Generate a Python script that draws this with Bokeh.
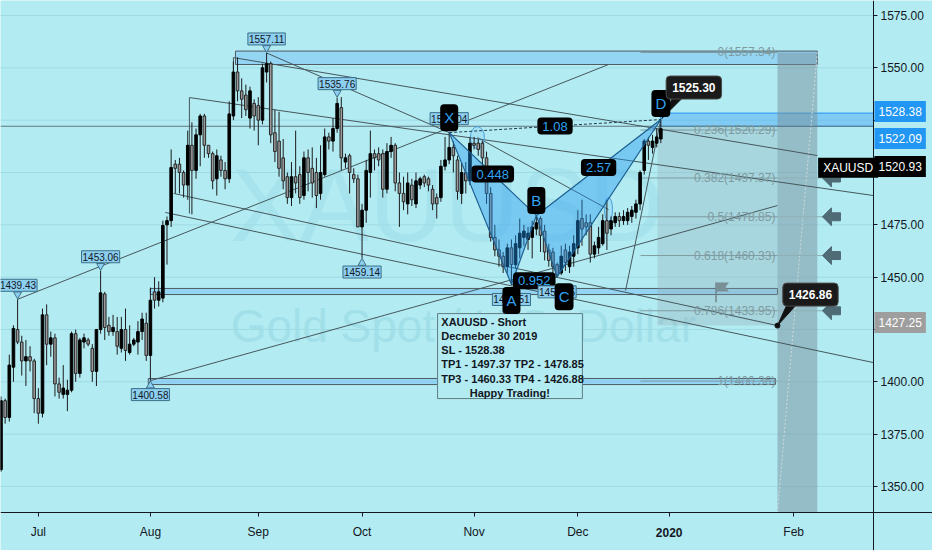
import numpy as np
from bokeh.plotting import figure
from bokeh.models import Range1d, FixedTicker, Label, NumeralTickFormatter
from bokeh.embed import file_html
from bokeh.resources import INLINE

# ---------------- data ----------------
opens = [1358,1391,1383,1407,1425,1419,1410,1412,1410,1392,1385,1432,1418,1421,1399,1394,1394,1396,1423,1404,
         1419,1420,1416,1405,1425,1442,1427,1424,1424,1416,1425,1414,1418,1419,1424,1428,1412.6,1443,1439,1440,
         1475,1477,1504,1504,1500,1494,1513,1501,1518,1527,1513,1509,1497,1506,1501,1497,1527,1548,1539,1537,
         1526,1533,1532,1525,1548,1552,1519,1515,1507,1498,1488,1498,1499,1489,1507,1502,1500,1490,1499,1517,
         1515,1521,1531,1505,1508,1499,1497,1474,1482,1500,1509,1509,1509,1492,1510,1513,1495,1490,1485,1494,
         1485,1494,1498,1497,1492,1488,1488,1503,1506,1512,1506,1490,1500,1496,1514,1514,1514,1507,1490,1469,
         1463,1460,1455,1464,1456,1464,1469,1468,1469,1473,1478,1472,1463,1462,1456,1452,1463,1455,1460,1464,
         1478,1476,1476,1461,1464,1466,1477,1473,1476,1479,1477,1477,1479,1481,1485,1501,1515,1512,1514,1516]
highs = [1393,1392,1413,1427,1439.43,1422,1420,1417,1411,1397,1435,1437,1424,1423,1402,1408,1401,1424,1425,1421,
         1423,1421,1418,1425,1453.06,1443,1431,1432,1431,1431,1435,1427,1421,1429,1433,1433,1445,1450,1448,1477,
         1479,1511,1506,1507,1501,1520,1524,1521,1528,1528,1513,1510,1511,1508,1505,1534,1553,1555,1545,1542,
         1541,1535,1536,1552,1557.11,1553,1530,1529,1516,1500,1505,1520,1503,1510,1511,1512,1507,1513,1521,1519,
         1526,1535.76,1536,1509,1509,1502,1499,1485,1506,1520,1511,1512,1511,1514,1517,1514,1500,1498,1500,1497,
         1500,1498,1499,1498,1494,1490,1506,1517,1519.04,1515,1508,1505,1505,1517,1517,1516,1515,1510,1493,1475,
         1468,1462,1466,1468,1470,1478,1475,1474,1477,1479.5,1479,1475,1466,1464,1457,1465,1466,1465,1470,1482,
         1487,1480,1480,1467,1474,1480,1487,1479,1481,1481,1482,1483,1484,1487,1501,1516,1517,1518,1521,1525.30]
lows = [1357,1380,1381,1400,1418,1403,1398,1405,1385,1380,1383,1408,1412,1393,1392,1392,1386,1395,1400,1402,
        1416,1417,1400,1398,1423,1420,1422,1422,1413,1414,1410,1413,1417,1413,1420,1410,1400.58,1435,1436,1438,
        1456,1474,1490,1490,1488,1487,1480,1497,1503,1507,1507,1492,1489,1498,1492,1495,1525,1534,1526,1527,
        1521,1520,1513,1523,1543,1514,1505,1498,1492,1485,1484,1490,1485,1487,1491,1488,1483,1487,1498,1511,
        1510,1519,1501,1502,1490,1495,1474,1459.14,1476,1488,1501,1503,1488,1490,1507,1491,1474,1482,1480,1484,
        1483,1492,1493,1491,1482,1478,1486,1501,1504,1500,1487,1485,1490,1494,1511,1508,1503,1485,1467,1460,
        1455,1452,1452,1446.51,1454,1459,1465,1463,1459,1470,1462,1458,1455,1451,1450.15,1451,1453,1452,1455,1461,
        1465,1470,1457,1459,1461,1465,1463,1470,1474,1474,1475,1475,1476,1478,1482,1499,1506,1509,1512,1514]
closes = [1391,1383,1408,1425.5,1419,1410,1412,1410,1392,1385,1432,1418,1421,1399,1395,1397,1396,1423,1404,1420,
          1421,1418,1405,1425,1442.5,1426,1424,1426,1417,1425,1415,1418,1420,1424,1430,1412.6,1439,1439,1443,1474.7,
          1477,1502.4,1502,1500,1494,1513,1501,1518,1527,1513,1509,1496,1508,1501,1497,1528,1548,1539,1535,1530,
          1539,1527,1525,1550,1552,1518,1510,1502,1496,1488,1498,1495,1488,1507,1500,1495,1489,1500,1517,1515,
          1521,1533,1507,1507,1500,1497,1474,1482,1501,1509,1507,1506,1492,1510,1513,1495,1490,1486,1495,1487,
          1496,1497,1495,1494,1485,1485,1503,1506,1512,1508,1491,1500,1496,1514,1513,1511,1507,1490,1469,1463,
          1460,1455,1464,1456,1466,1471,1472,1471,1474,1476,1470,1462,1458,1455,1451,1460,1457,1462,1466,1477,
          1473,1474,1461,1465,1469,1477,1471,1477,1479,1477,1479,1481,1482,1485,1500,1515,1513,1515,1517,1520.93]

month_ticks = [9, 36, 62, 87, 114, 139, 161, 191]
month_labels = ["Jul", "Aug", "Sep", "Oct", "Nov", "Dec", "2020", "Feb"]
price_ticks = [1350, 1375, 1400, 1425, 1450, 1475, 1500, 1525, 1550, 1575]

fib_ratio = ["0", "0.236", "0.382", "0.5", "0.618", "0.786", "1"]
fib_price = [1557.34, 1520.29, 1497.37, 1478.85, 1460.33, 1433.95, 1400.36]

pattern_names = ["X", "A", "B", "C", "D"]
pattern_bar = [108, 123, 129, 134, 159]
pattern_price = [1519.04, 1446.51, 1479.50, 1450.15, 1525.30]
ratio_text = ["0.448", "1.08", "0.952", "2.57"]

pivot_bar = [64, 81, 24, 4, 87, 36]
pivot_price = [1557.11, 1535.76, 1453.06, 1439.43, 1459.14, 1400.58]
pivot_is_high = [True, True, True, True, False, False]

# trend lines drawn on the chart: (bar, price) -> (bar, price)
trend_x0 = [4, 64, 56, 56, 45.4, 45.4, 36, 41.6, 39.6, 114.8, 150.5]
trend_y0 = [1439.43, 1557.11, 1554.9, 1554.9, 1535.8, 1535.8, 1400.58, 1490.0, 1480.9, 1516.7, 1443.6]
trend_x1 = [146.4, 108, 196.7, 56, 210.2, 45.4, 187.1, 187.1, 210.2, 146.4, 159]
trend_y1 = [1551.6, 1519.04, 1508.1, 1530.6, 1489.0, 1480.4, 1484.2, 1426.86, 1409.2, 1482.3, 1525.30]

sl_price, entry_price, tp4_price = 1528.38, 1522.09, 1426.88
target_price = 1426.86
last_price, other_price = 1520.93, 1427.25

note_lines = ["XAUUSD - Short", "Decmeber 30 2019", "SL - 1528.38",
              "TP1 - 1497.37 TP2 - 1478.85", "TP3 - 1460.33 TP4 - 1426.88"]
note_last = "Happy Trading!"

# ---------------- figure ----------------
FONT = "Liberation Sans"
BG = "#b2ebf2"
XR = (-0.12, 224.46)      # visible bars (frame spans the whole figure)
YR = (1319.42, 1582.17)
AX_X = 210.24              # where the price scale sits
AX_Y = 1337.58             # where the time scale sits


def rx(px):  # screen pixels -> bar units
    return px / 4.15


def ry(px):  # screen pixels -> price units
    return px / 2.0933


p = figure(frame_width=932, frame_height=550, x_range=Range1d(*XR), y_range=Range1d(*YR),
           output_backend="svg", toolbar_location=None,
           x_axis_location="below", y_axis_location="right")
p.min_border = 0
p.background_fill_color = BG
p.border_fill_color = BG
p.outline_line_color = None
p.xgrid.visible = False
p.ygrid.visible = False

ya = p.yaxis[0]
ya.fixed_location = AX_X
ya.ticker = FixedTicker(ticks=price_ticks)
ya.formatter = NumeralTickFormatter(format="0.00")
ya.major_label_overrides = {1525: "", 1500: "", 1425: ""}
ya.major_label_text_font = FONT
ya.major_label_text_font_size = "12px"
ya.major_label_text_color = "#131722"
ya.major_tick_out = 4
ya.major_tick_in = 0
ya.minor_tick_out = 0
ya.minor_tick_in = 0
ya.major_label_standoff = 3
ya.axis_line_color = "#131722"
ya.major_tick_line_color = "#131722"

xa = p.xaxis[0]
xa.fixed_location = AX_Y
xa.ticker = FixedTicker(ticks=month_ticks)
xa.major_label_overrides = {t: ("" if l == "2020" else l) for t, l in zip(month_ticks, month_labels)}
xa.major_label_text_font = FONT
xa.major_label_text_font_size = "12px"
xa.major_label_text_color = "#131722"
xa.major_tick_out = 4
xa.major_tick_in = 0
xa.minor_tick_out = 0
xa.minor_tick_in = 0
xa.major_label_standoff = 9
xa.axis_line_color = "#131722"
xa.major_tick_line_color = "#131722"
for t, lab in zip(month_ticks, month_labels):
    if lab == "2020":
        p.add_layout(Label(x=t, y=AX_Y - ry(20), text=lab, text_font=FONT, text_font_size="12px",
                           text_font_style="bold", text_color="#131722",
                           text_align="center", text_baseline="middle"))

# horizontal grid (left of the price scale only)
p.segment(x0=[XR[0]] * len(price_ticks), y0=price_ticks, x1=[AX_X] * len(price_ticks),
          y1=price_ticks, line_color="#9fdbe5", line_width=1)

# ---------------- watermark ----------------
p.add_layout(Label(x=107.5, y=1484.5, text="XAUUSD", text_font=FONT, text_font_size="104px",
                   text_color="#a7e3ec", text_align="center", text_baseline="middle", level="underlay"))
p.add_layout(Label(x=111.4, y=1426.9, text="Gold Spot / U.S. Dollar", text_font=FONT,
                   text_font_size="46px", text_color="#a2e0e9", text_align="center",
                   text_baseline="middle", level="underlay"))

# ---------------- zones / boxes ----------------
box_fill = "#64b5f6"
p.quad(left=[56.5], right=[196.7], bottom=[1551.6], top=[1558.0], fill_color=box_fill,
       fill_alpha=0.4, line_color="#4f5b62", line_width=1)
p.quad(left=[35.5], right=[186.6], bottom=[1398.7], top=[1401.6], fill_color=box_fill,
       fill_alpha=0.4, line_color="#4f5b62", line_width=1)
p.quad(left=[36.0], right=[187.1], bottom=[1441.7], top=[1444.6], fill_color=box_fill,
       fill_alpha=0.4, line_color="#4f5b62", line_width=1)
# short position: target zone and stop zone
p.quad(left=[158.2], right=[187.1], bottom=[tp4_price], top=[entry_price], fill_color="#90a4ae",
       fill_alpha=0.3, line_color=None)
p.quad(left=[158.9], right=[AX_X], bottom=[entry_price], top=[sl_price], fill_color="#42a5f5",
       fill_alpha=0.45, line_color="#2196f3", line_width=1)
# projection band
p.quad(left=[187.1], right=[196.7], bottom=[AX_Y], top=[fib_price[0]], fill_color="#78909c",
       fill_alpha=0.5, line_color=None)
p.segment(x0=[187.1], y0=[AX_Y], x1=[196.7], y1=[fib_price[0]], line_color="#cfdadc",
          line_dash="2 2", line_width=1)

# horizontal line at entry
p.segment(x0=[XR[0]], y0=[entry_price], x1=[AX_X], y1=[entry_price], line_color="#5f7880",
          line_width=1.2)

# fib retracement
fib_left, fib_right = 154.1, 187.1
p.segment(x0=[fib_left] * len(fib_price), y0=fib_price, x1=[fib_right] * len(fib_price),
          y1=fib_price, line_color="#7f9ba1", line_width=1)
p.segment(x0=[fib_right] * 4, y0=fib_price[2:6], x1=[fib_right + rx(60)] * 4, y1=fib_price[2:6],
          line_color="#8fb0b5", line_width=1)
for r, v in zip(fib_ratio, fib_price):
    p.add_layout(Label(x=fib_right - rx(2), y=v, text=f"{r}({v:.2f})", text_font=FONT,
                       text_font_size="12px", text_color="#7f9ba1", text_align="right",
                       text_baseline="middle"))

# arrows at targets
arrow_xs, arrow_ys = [], []
shape = [(0, 0), (9, -9), (9, -4), (18, -4), (18, 4), (9, 4), (9, 9)]
for v in fib_price[2:6]:
    tip = fib_right + rx(45)
    arrow_xs.append([tip + rx(a) for a, b in shape])
    arrow_ys.append([v - ry(b) for a, b in shape])
p.patches(arrow_xs, arrow_ys, fill_color="#4e6b76", line_color="#4e6b76")

# trend lines
p.segment(x0=trend_x0, y0=trend_y0, x1=trend_x1, y1=trend_y1, line_color="#46575d", line_width=1)

# ellipses
p.ellipse(x=[114.8, 146.4], y=[1516.7, 1482.3], width=[3.4, 1.9], height=[10.5, 11.5],
          fill_color="#42a5f5", fill_alpha=0.15, line_color="#4a9fd8", line_width=1)

# flag
p.segment(x0=[172.3], y0=[1447.5], x1=[172.3], y1=[1438.0], line_color="#6f848b", line_width=1.5)
p.patch(x=[172.3, 175.4, 174.6, 175.4, 172.3], y=[1447.5, 1447.5, 1445.3, 1443.2, 1443.2],
        fill_color="#7a9097", line_color=None)

# ---------------- candles ----------------
o = np.array(opens, float); h = np.array(highs, float)
l = np.array(lows, float); c = np.array(closes, float)
idx = np.arange(len(o))
up = c >= o
p.segment(x0=idx, y0=h, x1=idx, y1=l, line_color="#1c1c1c", line_width=1)
p.vbar(x=idx[up], width=0.62, top=c[up], bottom=o[up], fill_color="#000000", line_color="#000000")
p.vbar(x=idx[~up], width=0.62, top=o[~up], bottom=c[~up], fill_color="#9a9a9a",
       line_color="#262626", line_width=1)

# ---------------- harmonic pattern ----------------
X, A, B, C, D = list(zip(pattern_bar, pattern_price))
p.patches([[X[0], A[0], B[0]], [B[0], C[0], D[0]]], [[X[1], A[1], B[1]], [B[1], C[1], D[1]]],
          fill_color="#2196f3", fill_alpha=0.4, line_color="#1d5f8f", line_width=1.2)
p.segment(x0=[X[0], A[0]], y0=[X[1], A[1]], x1=[D[0], C[0]], y1=[D[1], C[1]],
          line_color="#1f3a4a", line_width=1, line_dash="3 2")

pairs = [(X, B), (X, D), (A, C), (B, D)]
for txt, (P1, P2) in zip(ratio_text, pairs):
    p.add_layout(Label(x=(P1[0] + P2[0]) / 2, y=(P1[1] + P2[1]) / 2, text=txt, text_font=FONT,
                       text_font_size="13px", text_color="#2fa3f0", text_align="center",
                       text_baseline="middle", background_fill_color="#000000",
                       border_radius=4, padding=(5, 4)))

# hidden price boxes beneath the badges
for (bx, bp), below in zip([X, A, C], [False, True, True]):
    p.add_layout(Label(x=bx, y=bp + (-ry(15) if below else ry(14)), text=f"{bp:.2f}",
                       text_font=FONT, text_font_size="10px", text_color="#131722",
                       text_align="center", text_baseline="middle",
                       background_fill_color="#8ccff0", border_line_color="#3d6f87",
                       padding=(1, 2)))

badge_dy = [15, -16, 15, -20, 16]
badge_dx = [0, 0, 0, 7, 0]
for n, bx, bp, dy, dx in zip(pattern_names, pattern_bar, pattern_price, badge_dy, badge_dx):
    p.add_layout(Label(x=bx + rx(dx), y=bp + ry(dy), text=n, text_font=FONT,
                       text_font_size="15px", text_color="#2fa3f0", text_align="center",
                       text_baseline="middle", background_fill_color="#000000",
                       border_radius=4, padding=(4, 5)))

# ---------------- pivot price labels ----------------
for b, v, hi in zip(pivot_bar, pivot_price, pivot_is_high):
    sgn = 1 if hi else -1
    p.scatter(x=[b], y=[v + sgn * ry(5)], marker="inverted_triangle" if hi else "triangle",
              size=8, fill_color="#8ccff0", line_color="#3d6f87")
    p.add_layout(Label(x=max(b, rx(17)), y=v + sgn * ry(14), text=f"{v:.2f}", text_font=FONT,
                       text_font_size="10px", text_color="#131722", text_align="center",
                       text_baseline="middle", background_fill_color="#8ccff0",
                       border_line_color="#3d6f87", padding=(1, 2)))

# ---------------- callouts ----------------
p.patches([[D[0] + rx(12), D[0] + rx(22), D[0] + rx(1)], [187.1 + rx(10), 187.1 + rx(20), 187.1]],
          [[D[1] + ry(22), D[1] + ry(22), D[1] + ry(1)],
           [target_price + ry(22), target_price + ry(22), target_price]],
          fill_color="#111111", line_color="#111111")
p.add_layout(Label(x=D[0] + rx(33), y=D[1] + ry(32), text=f"{D[1]:.2f}", text_font=FONT,
                   text_font_size="12px", text_font_style="bold", text_color="#ffffff",
                   text_align="center", text_baseline="middle", background_fill_color="#1a1a1a",
                   border_line_color="#4a4a4a", border_radius=4, padding=(6, 7)))
p.scatter(x=[187.1], y=[target_price], size=5, fill_color="#111111", line_color="#111111")
p.add_layout(Label(x=187.1 + rx(33), y=target_price + ry(31), text=f"{target_price:.2f}",
                   text_font=FONT, text_font_size="12px", text_font_style="bold",
                   text_color="#ffffff", text_align="center", text_baseline="middle",
                   background_fill_color="#1a1a1a", border_line_color="#4a4a4a",
                   border_radius=4, padding=(6, 7)))

# ---------------- note box ----------------
p.quad(left=[105.2], right=[140.1], bottom=[1392.0], top=[1432.6], fill_color=BG,
       line_color="#5f7d84", line_width=1)
for k, t in enumerate(note_lines):
    p.add_layout(Label(x=106.1, y=1428.8 - k * ry(14.3), text=t, text_font=FONT,
                       text_font_size="11px", text_font_style="bold", text_color="#131722",
                       text_align="left", text_baseline="middle"))
p.add_layout(Label(x=122.6, y=1428.8 - 5 * ry(14.3), text=note_last, text_font=FONT,
                   text_font_size="11px", text_font_style="bold", text_color="#131722",
                   text_align="center", text_baseline="middle"))

# ---------------- symbol + axis tags ----------------
p.add_layout(Label(x=196.9, y=last_price - ry(39), text="XAUUSD", text_font=FONT,
                   text_font_size="12px", text_color="#ffffff", text_align="left",
                   text_baseline="middle", background_fill_color="#000000", padding=(5, 3)))
tags = [(sl_price, 1529.1, "#2196f3"), (entry_price, 1516.2, "#2196f3"),
        (last_price, 1502.9, "#000000"), (other_price, 1428.3, "#9e9e9e")]
for val, ypos, col in tags:
    p.add_layout(Label(x=AX_X + rx(1), y=ypos, text=f"{val:.2f}", text_font=FONT,
                       text_font_size="12px", text_color="#ffffff", text_align="left",
                       text_baseline="middle", background_fill_color=col, padding=(4, 6)))

open("out.html", "w").write(file_html(p, INLINE))
